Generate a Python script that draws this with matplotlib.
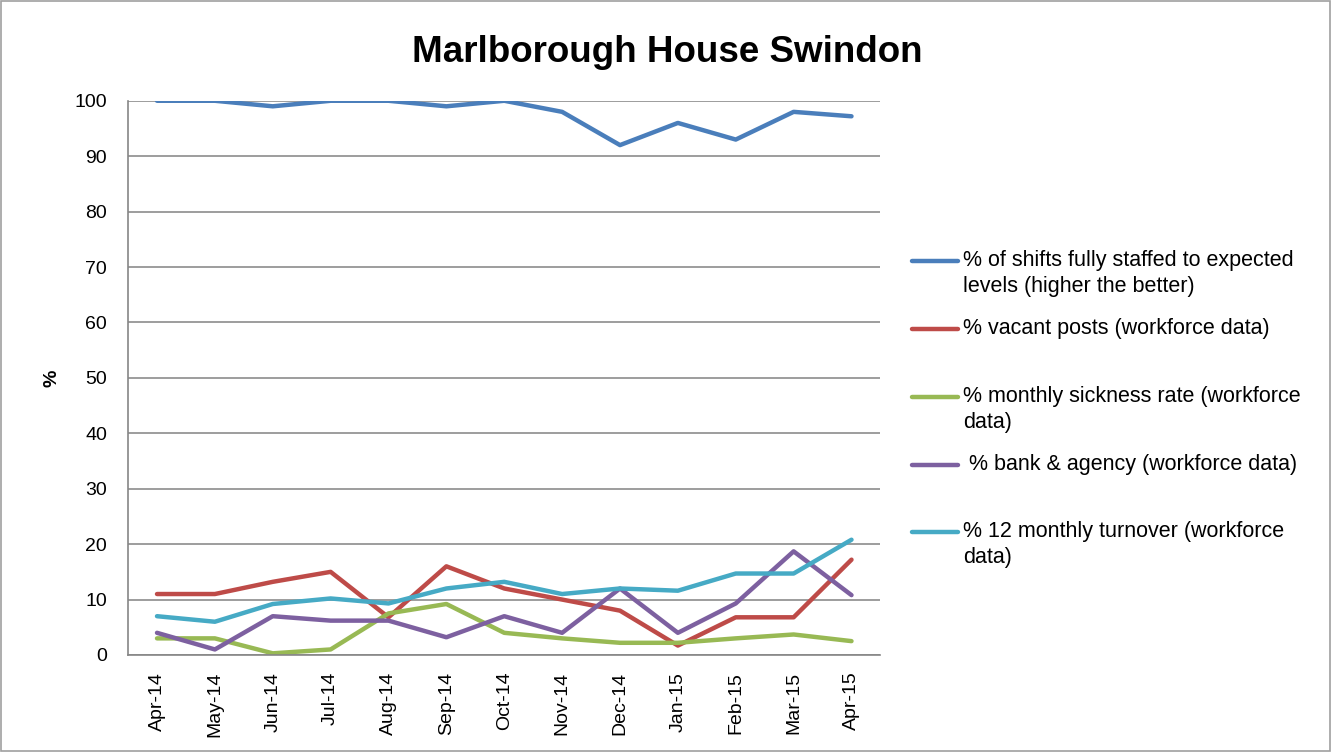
import numpy as np
import matplotlib.pyplot as plt
from matplotlib.lines import Line2D
from matplotlib.patches import Rectangle

plt.rcParams['font.family'] = ['Liberation Sans', 'DejaVu Sans']

months = ['Apr-14', 'May-14', 'Jun-14', 'Jul-14', 'Aug-14', 'Sep-14', 'Oct-14',
          'Nov-14', 'Dec-14', 'Jan-15', 'Feb-15', 'Mar-15', 'Apr-15']

shifts_staffed = [100, 100, 99, 100, 100, 99, 100, 98, 92, 96, 93, 98, 97.2]
vacant_posts = [11, 11, 13.2, 15, 6.8, 16, 12, 10, 8, 1.7, 6.8, 6.8, 17.2]
sickness_rate = [3, 3, 0.3, 1, 7.5, 9.2, 4, 3, 2.2, 2.2, 3, 3.7, 2.5]
bank_agency = [4, 1, 7, 6.2, 6.2, 3.2, 7, 4, 12, 4, 9.3, 18.7, 10.8]
turnover = [7, 6, 9.2, 10.2, 9.3, 12, 13.2, 11, 12, 11.6, 14.7, 14.7, 20.8]

labels = ['% of shifts fully staffed to expected\nlevels (higher the better)',
          '% vacant posts (workforce data)',
          '% monthly sickness rate (workforce\ndata)',
          ' % bank & agency (workforce data)',
          '% 12 monthly turnover (workforce\ndata)']
colors = ['#4a7ebb', '#be4b48', '#98b954', '#7d60a0', '#46aac5']
series = [shifts_staffed, vacant_posts, sickness_rate, bank_agency, turnover]

fig = plt.figure(figsize=(13.34, 7.52), dpi=100)
fig.patches.append(Rectangle((0.001, 0.001), 0.996, 0.998, transform=fig.transFigure,
                             fill=False, edgecolor='#a0a0a0', linewidth=1.2))
ax = fig.add_axes([0.096, 0.129, 0.564, 0.737])

x = np.arange(len(months))
for vals, c in zip(series, colors):
    ax.plot(x, vals, color=c, linewidth=3.2, solid_capstyle='round')

ax.set_xlim(-0.5, len(months) - 0.5)
ax.set_ylim(0, 100)
ax.set_yticks(np.arange(0, 101, 10))
ax.set_xticks(x)
ax.set_xticklabels(months, rotation=90, fontsize=14)
ax.tick_params(axis='y', labelsize=14, length=0, pad=15)
ax.tick_params(axis='x', length=0, pad=12)
ax.grid(axis='y', color='#8c8c8c', linewidth=1.2)
ax.set_axisbelow(True)
for s in ['top', 'right']:
    ax.spines[s].set_visible(False)
for s in ['left', 'bottom']:
    ax.spines[s].set_color('#868686')
    ax.spines[s].set_linewidth(1.2)
ax.set_ylabel('%', fontsize=14, fontweight='bold', labelpad=10)

fig.text(0.5, 0.93, 'Marlborough House Swindon', ha='center', va='center',
         fontsize=26.5, fontweight='bold')

# legend drawn by hand to match the stacked spacing
ly = [261, 329, 397, 465, 532]
for lab, c, y in zip(labels, colors, ly):
    yf = 1 - y / 752
    fig.add_artist(Line2D([912 / 1334, 958 / 1334], [yf, yf], color=c, linewidth=3.2,
                          solid_capstyle='round'))
    fig.text(963 / 1334, yf + 0.0145, lab, ha='left', va='top', fontsize=15.5,
             linespacing=1.3)

fig.savefig('out.png', dpi=100)
